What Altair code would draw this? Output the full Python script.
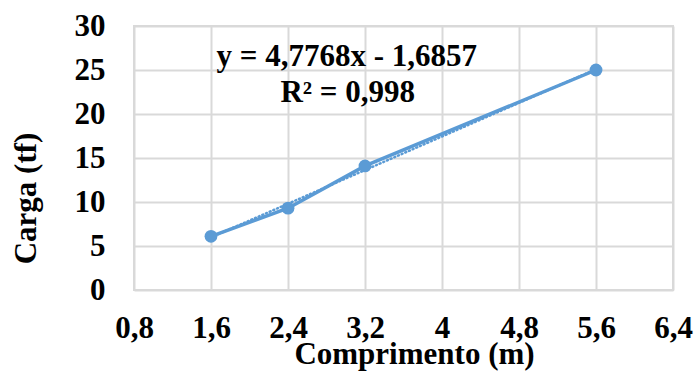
import altair as alt
import pandas as pd

# Measured load versus length
comprimento = [1.6, 2.4, 3.2, 5.6]
carga = [6.1, 9.3, 14.1, 25.0]

x_ticks = [0.8, 1.6, 2.4, 3.2, 4.0, 4.8, 5.6, 6.4]
y_ticks = [0, 5, 10, 15, 20, 25, 30]

eq_lines = ["y = 4,7768x - 1,6857", "R² = 0,998"]
eq_x = [3.01, 3.02]
eq_y = [25.45, 21.4]

df = pd.DataFrame({"x": comprimento, "y": carga})
lbl = pd.DataFrame({"t": eq_lines, "x": eq_x, "y": eq_y})

FONT = "Liberation Serif"
FS = 31
BLUE = "#5B9BD5"
GRID = "#D9D9D9"

x_scale = alt.Scale(domain=[0.8, 6.4], nice=False, zero=False)
y_scale = alt.Scale(domain=[0, 30], nice=False)

x_enc = alt.X(
    "x:Q", scale=x_scale, title="Comprimento (m)",
    axis=alt.Axis(values=x_ticks, labelExpr="replace(toString(datum.value), '.', ',')",
                  grid=True, gridColor=GRID, gridWidth=2, domain=False, ticks=False,
                  tickSize=0, labelBaseline="alphabetic", labelPadding=47,
                  labelFlush=False,
                  titleBaseline="alphabetic", titleX=280, titleY=73),
)
y_enc = alt.Y(
    "y:Q", scale=y_scale, title="Carga (tf)",
    axis=alt.Axis(values=y_ticks, grid=True, gridColor=GRID, gridWidth=2,
                  domain=False, ticks=False, tickSize=0, labelPadding=29,
                  labelFlush=False,
                  titleAngle=270, titleBaseline="alphabetic", titleX=-99, titleY=172),
)

base = alt.Chart(df).encode(x=x_enc, y=y_enc)

trend = base.transform_regression("x", "y", method="linear").mark_line(
    color=BLUE, strokeWidth=2.5, strokeDash=[1, 3], strokeCap="round"
)
line = base.mark_line(color=BLUE, strokeWidth=3.5)
pts = base.mark_circle(color=BLUE, size=165, opacity=1)

text = alt.Chart(lbl).mark_text(
    font=FONT, fontSize=FS, fontWeight="bold", color="black",
    align="center", baseline="alphabetic"
).encode(x=alt.X("x:Q", scale=x_scale), y=alt.Y("y:Q", scale=y_scale), text="t:N")

chart = (
    alt.layer(trend, line, pts, text)
    .properties(
        width=539, height=264,
        autosize=alt.AutoSizeParams(type="none"),
        padding={"left": 134, "top": 26, "right": 22, "bottom": 86},
        background="white",
    )
    .configure_view(stroke=GRID, strokeWidth=2)
    .configure_axis(
        labelFont=FONT, labelFontSize=FS, labelFontWeight="bold", labelColor="black",
        titleFont=FONT, titleFontSize=FS, titleFontWeight="bold", titleColor="black",
    )
)

chart.save("out.html", embed_options={"renderer": "svg", "actions": False})
